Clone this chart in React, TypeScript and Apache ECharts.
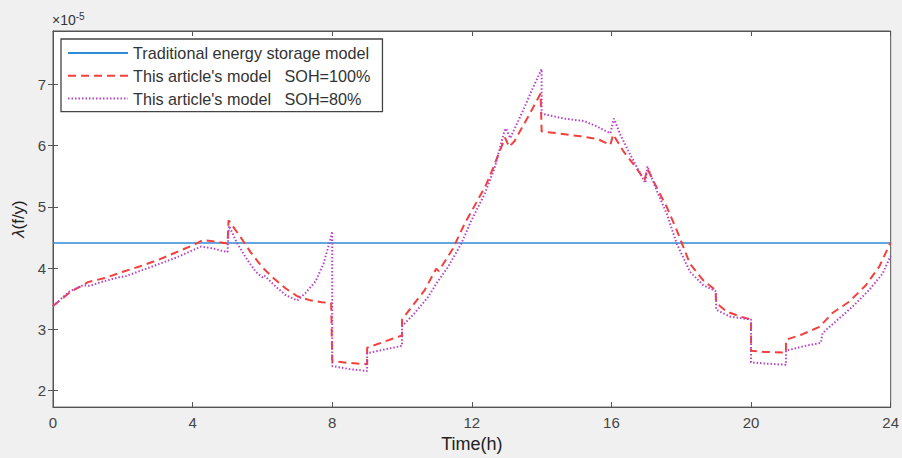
import React, { useEffect, useRef } from "react";
import * as echarts from "echarts";

const seriesNames = [
  "Traditional energy storage model",
  "This article's model   SOH=100%",
  "This article's model   SOH=80%",
];

const xTicks = [0, 4, 8, 12, 16, 20, 24];
const yTicks = [2, 3, 4, 5, 6, 7];

const tradHours = [0, 24];
const tradValues = [4.41, 4.41];

const soh100Hours = [
  0, 0.5, 1, 1.5, 2, 2.5, 3, 3.5, 4, 4.3, 4.65, 5, 5.03, 5.38, 5.66, 6, 6.33,
  6.66, 7.0, 7.33, 7.7, 7.97, 8, 8.5, 9, 9, 9.5, 10, 10, 10.32, 10.65, 10.98,
  11.05, 11.46, 11.79, 12.12, 12.4, 12.65, 12.95, 13.07, 13.22, 13.69, 13.97,
  14, 14.45, 15.12, 15.59, 15.97, 16.05, 16.35, 16.64, 16.95, 17.03, 17.3,
  17.59, 17.87, 18.25, 18.63, 18.98, 19, 19.3, 19.68, 20, 20, 20.4, 21, 21,
  21.48, 21.96, 22.34, 22.81, 23.29, 23.67, 24,
];
const soh100Values = [
  3.38, 3.61, 3.77, 3.84, 3.94, 4.03, 4.13, 4.25, 4.37, 4.46, 4.43, 4.4, 4.78,
  4.5, 4.26, 4.01, 3.83, 3.67, 3.54, 3.48, 3.44, 3.43, 2.48, 2.45, 2.43, 2.7,
  2.8, 2.9, 3.16, 3.4, 3.64, 3.99, 3.95, 4.32, 4.72, 5.06, 5.35, 5.69, 6.13,
  5.98, 6.07, 6.55, 6.85, 6.23, 6.2, 6.15, 6.11, 6.01, 6.18, 5.9, 5.69, 5.44,
  5.62, 5.31, 4.99, 4.62, 4.07, 3.8, 3.64, 3.43, 3.29, 3.21, 3.16, 2.65, 2.63,
  2.62, 2.83, 2.92, 3.04, 3.27, 3.45, 3.72, 4.02, 4.42,
];

const soh80Hours = [
  0, 0.48, 0.86, 1.05, 1.43, 1.96, 2.05, 2.48, 2.96, 3.53, 4.0, 4.24, 4.57, 5.0,
  5.04, 5.28, 5.57, 5.81, 6.0, 6.05, 6.38, 6.66, 7.0, 7.23, 7.52, 7.75, 7.94,
  8.0, 8.0, 8.5, 9.0, 9.0, 9.5, 10.0, 10.0, 10.37, 10.75, 11.0, 11.32, 11.7,
  11.98, 12.36, 12.65, 12.93, 12.98, 13.1, 13.45, 13.74, 14.0, 14.0, 14.64,
  15.21, 15.59, 15.97, 16.07, 16.26, 16.54, 16.97, 17.03, 17.3, 17.59, 17.87,
  18.25, 18.63, 19.0, 19.0, 19.39, 20.0, 20.0, 20.44, 21.0, 21.0, 21.48, 22.0,
  22.05, 22.43, 22.91, 23.38, 23.77, 24,
];
const soh80Values = [
  3.38, 3.62, 3.72, 3.71, 3.78, 3.86, 3.86, 3.95, 4.05, 4.17, 4.29, 4.35, 4.32,
  4.26, 4.69, 4.4, 4.13, 3.94, 3.85, 3.88, 3.7, 3.56, 3.47, 3.59, 3.78, 4.07,
  4.45, 4.6, 2.4, 2.35, 2.32, 2.61, 2.67, 2.73, 3.05, 3.27, 3.53, 3.76, 4.02,
  4.4, 4.77, 5.2, 5.63, 6.23, 6.28, 6.12, 6.55, 6.93, 7.25, 6.52, 6.44, 6.4,
  6.31, 6.2, 6.44, 6.17, 5.85, 5.39, 5.66, 5.26, 4.88, 4.4, 3.94, 3.72, 3.62,
  3.32, 3.21, 3.16, 2.46, 2.44, 2.42, 2.65, 2.72, 2.78, 2.94, 3.13, 3.37, 3.64,
  3.91, 4.2,
];

const zip = (xs: number[], ys: number[]) => xs.map((x, i) => [x, ys[i]]);

const FONT = "Liberation Sans, Arial, Helvetica, sans-serif";
const AXIS_COLOR = "#555";

export default function App() {
  const ref = useRef<HTMLDivElement>(null);
  useEffect(() => {
    if (!ref.current) return;
    const chart = echarts.init(ref.current, null, { renderer: "svg" });
    const tickCommon = {
      inside: true,
      length: 5,
      lineStyle: { color: AXIS_COLOR, width: 1 },
    };
    chart.setOption({
      animation: false,
      backgroundColor: "#f0f0f0",
      textStyle: { fontFamily: FONT },
      grid: {
        left: 53,
        right: 7,
        top: 31,
        bottom: 46,
        show: true,
        backgroundColor: "#ffffff",
        borderColor: AXIS_COLOR,
        borderWidth: 1,
      },
      legend: {
        orient: "vertical",
        left: 61,
        top: 39,
        itemWidth: 60,
        itemHeight: 14,
        itemGap: 6.8,
        padding: [6, 12, 5, 6],
        borderColor: "#444",
        borderWidth: 1.3,
        borderRadius: 0,
        backgroundColor: "#ffffff",
        itemStyle: { opacity: 0 },
        textStyle: { fontSize: 16.2, color: "#333", fontFamily: FONT },
        data: seriesNames,
      },
      graphic: [
        {
          type: "text",
          left: 52,
          top: 11,
          style: {
            text: "{a|×10}{b|-5}",
            rich: {
              a: { fontSize: 14, fill: "#333", fontFamily: FONT },
              b: {
                fontSize: 10,
                fill: "#333",
                fontFamily: FONT,
                verticalAlign: "top",
                padding: [0, 0, 8, 0],
              },
            },
          },
        },
      ],
      xAxis: [
        {
          type: "value",
          min: xTicks[0],
          max: xTicks[xTicks.length - 1],
          interval: 4,
          axisLine: { show: true, lineStyle: { color: AXIS_COLOR } },
          axisTick: tickCommon,
          axisLabel: { color: "#444", fontSize: 15, margin: 8, fontFamily: FONT },
          splitLine: { show: false },
          name: "Time(h)",
          nameLocation: "middle",
          nameGap: 27,
          nameTextStyle: { fontSize: 18, color: "#222", fontFamily: FONT },
        },
        {
          type: "value",
          position: "top",
          min: xTicks[0],
          max: xTicks[xTicks.length - 1],
          interval: 4,
          axisLine: { show: true, lineStyle: { color: AXIS_COLOR } },
          axisTick: tickCommon,
          axisLabel: { show: false },
          splitLine: { show: false },
        },
      ],
      yAxis: [
        {
          type: "value",
          min: 1.73,
          max: 7.87,
          axisLine: { show: true, lineStyle: { color: AXIS_COLOR } },
          axisTick: { ...tickCommon, customValues: yTicks },
          axisLabel: {
            color: "#444",
            fontSize: 15,
            margin: 7,
            fontFamily: FONT,
            customValues: yTicks,
          },
          splitLine: { show: false },
          name: "{i|λ}(f/y)",
          nameLocation: "middle",
          nameGap: 24,
          nameRotate: 90,
          nameTextStyle: {
            fontSize: 17,
            color: "#222",
            fontFamily: FONT,
            rich: {
              i: { fontSize: 17, fontStyle: "italic", color: "#222", fontFamily: FONT },
            },
          },
        },
        {
          type: "value",
          position: "right",
          min: 1.73,
          max: 7.87,
          axisLine: { show: true, lineStyle: { color: AXIS_COLOR } },
          axisTick: { ...tickCommon, customValues: yTicks },
          axisLabel: { show: false, customValues: yTicks },
          splitLine: { show: false },
        },
      ],
      series: [
        {
          name: seriesNames[0],
          type: "line",
          symbol: "none",
          data: zip(tradHours, tradValues),
          lineStyle: { color: "#2f8ad8", width: 1.6 },
          itemStyle: { color: "#2f8ad8" },
          z: 2,
        },
        {
          name: seriesNames[1],
          type: "line",
          symbol: "none",
          data: zip(soh100Hours, soh100Values),
          lineStyle: { color: "#f4403c", width: 2, type: [8, 5] },
          itemStyle: { color: "#f4403c" },
          z: 3,
        },
        {
          name: seriesNames[2],
          type: "line",
          symbol: "none",
          data: zip(soh80Hours, soh80Values),
          lineStyle: { color: "#b645c4", width: 2, type: [1.5, 2] },
          itemStyle: { color: "#b645c4" },
          z: 4,
        },
      ],
    });
    return () => chart.dispose();
  }, []);
  return (
    <div
      ref={ref}
      style={{ position: "absolute", left: 0, top: 0, width: 902, height: 458 }}
    />
  );
}
